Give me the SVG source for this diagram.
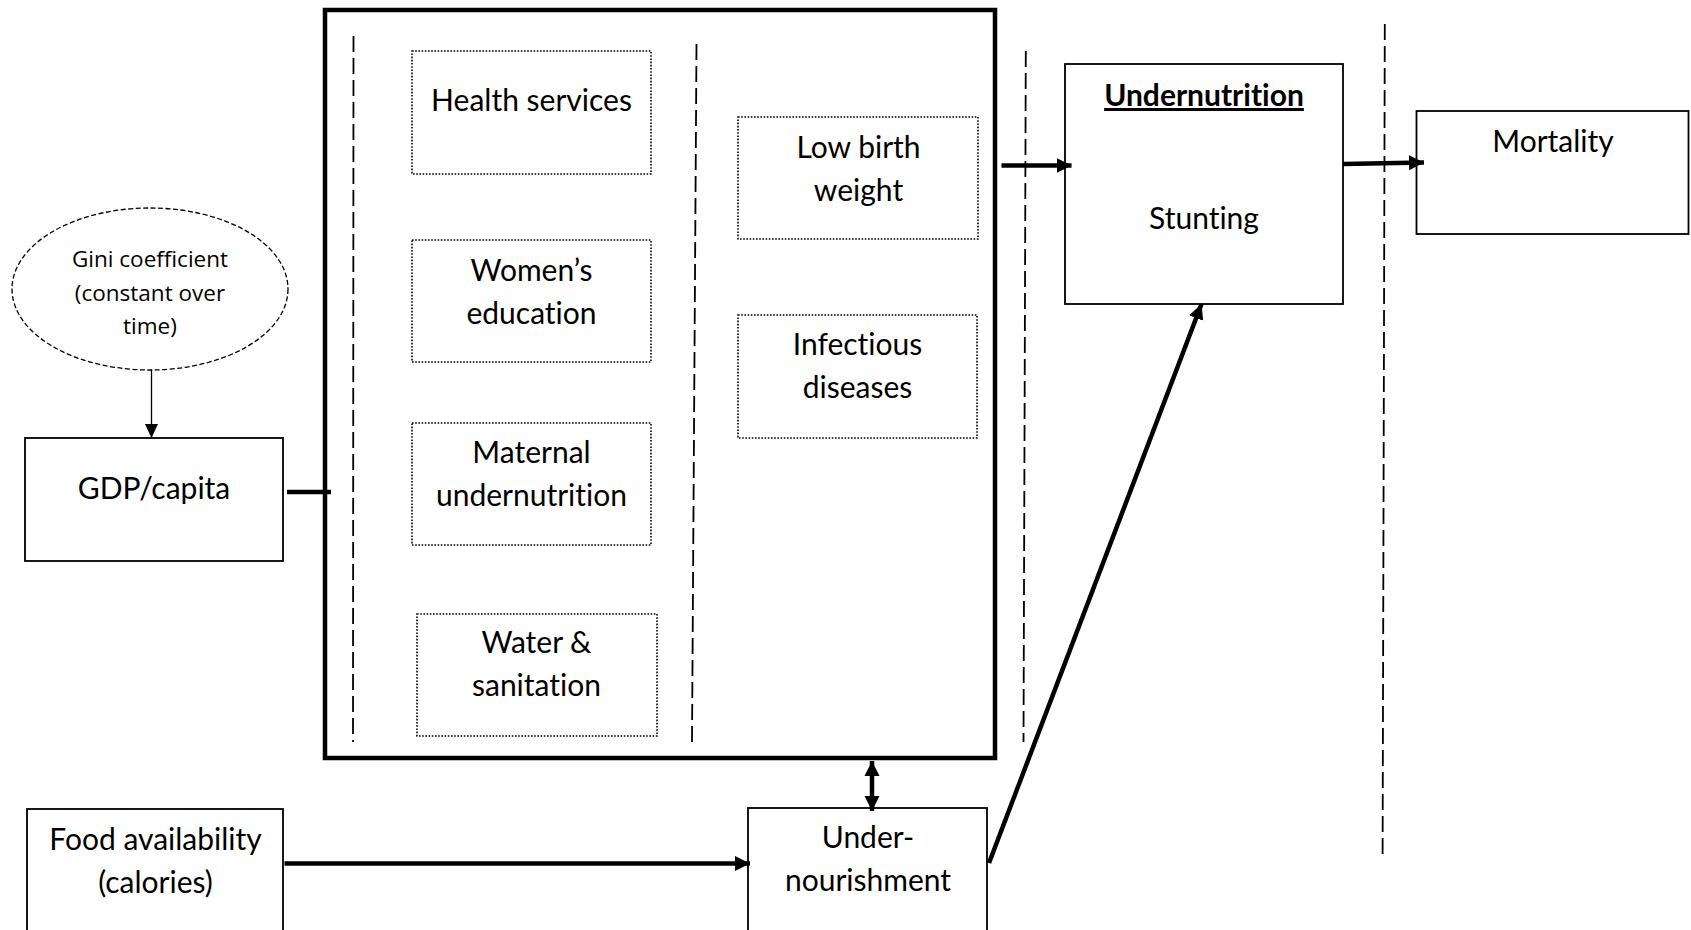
<svg xmlns="http://www.w3.org/2000/svg" width="1691" height="930" viewBox="0 0 1691 930">
  <defs>
    <style>
      .box { fill: #fff; stroke: #000; stroke-width: 1.8; }
      .frame { fill: none; stroke: #000; stroke-width: 4.5; }
      .dotted { fill: #fff; stroke: #000; stroke-width: 1.6; stroke-dasharray: 1.6 1.6; }
      .oval { fill: #fff; stroke: #000; stroke-width: 1.3; stroke-dasharray: 5 2.5; }
      .divider { fill: none; stroke: #000; stroke-width: 1.8; stroke-dasharray: 16 6; }
      .link { fill: none; stroke: #000; stroke-width: 4.5; }
      .thin { fill: none; stroke: #000; stroke-width: 1.3; }
      .lbl { font-family: Lato, "Noto Sans", sans-serif; font-size: 30px; fill: #000; text-anchor: middle; font-variant-ligatures: none; }
      .bold { font-weight: bold; text-decoration: underline; }
      .small { font-family: "Open Sans", "Noto Sans", sans-serif; font-size: 22.5px; fill: #000; text-anchor: middle; }
    </style>
    <marker id="head" markerUnits="userSpaceOnUse" markerWidth="16" markerHeight="16" viewBox="0 0 16 16" refX="15" refY="8" orient="auto-start-reverse">
      <path d="M0,0.5 L15,8 L0,15.5 Z" fill="#000"/>
    </marker>
    <marker id="headSmall" markerUnits="userSpaceOnUse" markerWidth="14" markerHeight="14" viewBox="0 0 14 14" refX="14" refY="7" orient="auto">
      <path d="M0,0.5 L14,7 L0,13.5 Z" fill="#000"/>
    </marker>
  </defs>

  <rect width="1691" height="930" fill="#fff"/>

  <!-- determinants frame with its column dividers -->
  <g id="determinants">
    <rect class="frame" x="325" y="10" width="670" height="748"/>
    <line class="divider" x1="353.5" y1="36" x2="353" y2="742"/>
    <line class="divider" x1="696.5" y1="44" x2="692" y2="742"/>
  </g>

  <!-- stage dividers -->
  <g id="stage-dividers">
    <line class="divider" x1="1025.8" y1="51" x2="1023.5" y2="742"/>
    <line class="divider" x1="1384.8" y1="24" x2="1382.6" y2="854"/>
  </g>

  <g id="health-services">
    <rect class="dotted" x="412" y="51" width="239" height="123"/>
    <text class="lbl" x="531.5" y="111">Health services</text>
  </g>

  <g id="womens-education">
    <rect class="dotted" x="412" y="240" width="239" height="122"/>
    <text class="lbl" x="531.5" y="281">Women’s</text>
    <text class="lbl" x="531.5" y="324">education</text>
  </g>

  <g id="maternal-undernutrition">
    <rect class="dotted" x="412" y="423" width="239" height="122"/>
    <text class="lbl" x="531.5" y="463">Maternal</text>
    <text class="lbl" x="531.5" y="506">undernutrition</text>
  </g>

  <g id="water-sanitation">
    <rect class="dotted" x="417" y="614" width="240" height="122"/>
    <text class="lbl" x="536.5" y="653">Water &amp;</text>
    <text class="lbl" x="536.5" y="696">sanitation</text>
  </g>

  <g id="low-birth-weight">
    <rect class="dotted" x="738" y="117" width="240" height="122"/>
    <text class="lbl" x="858.5" y="158">Low birth</text>
    <text class="lbl" x="858.5" y="201">weight</text>
  </g>

  <g id="infectious-diseases">
    <rect class="dotted" x="738" y="315" width="239" height="123"/>
    <text class="lbl" x="857.5" y="355">Infectious</text>
    <text class="lbl" x="857.5" y="398">diseases</text>
  </g>

  <g id="gini">
    <ellipse class="oval" cx="150" cy="289" rx="138" ry="81"/>
    <text class="small" x="150" y="267">Gini coefficient</text>
    <text class="small" x="150" y="301">(constant over</text>
    <text class="small" x="150" y="334">time)</text>
  </g>

  <g id="gdp">
    <rect class="box" x="25" y="438" width="258" height="123"/>
    <text class="lbl" x="154" y="499">GDP/capita</text>
  </g>

  <g id="food-availability">
    <rect class="box" x="27" y="809" width="256" height="130"/>
    <text class="lbl" x="155.5" y="850">Food availability</text>
    <text class="lbl" x="155.5" y="893">(calories)</text>
  </g>

  <g id="undernourishment">
    <rect class="box" x="748" y="808" width="239" height="130"/>
    <text class="lbl" x="868" y="848">Under-</text>
    <text class="lbl" x="868" y="891">nourishment</text>
  </g>

  <g id="undernutrition">
    <rect class="box" x="1065" y="64" width="278" height="240"/>
    <text class="lbl bold" x="1204" y="106">Undernutrition</text>
    <text class="lbl" x="1204" y="229">Stunting</text>
  </g>

  <g id="mortality">
    <rect class="box" x="1416.5" y="111" width="272" height="123"/>
    <text class="lbl" x="1553" y="152">Mortality</text>
  </g>

  <g id="connectors">
    <line class="thin" x1="151.5" y1="370" x2="151.5" y2="438" marker-end="url(#headSmall)"/>
    <line class="link" x1="287" y1="492" x2="331" y2="492"/>
    <line class="link" x1="284.5" y1="863.5" x2="750" y2="863.5" marker-end="url(#head)"/>
    <line class="link" x1="872" y1="761" x2="872" y2="811" marker-start="url(#head)" marker-end="url(#head)"/>
    <line class="link" x1="1001.5" y1="165.5" x2="1071.5" y2="165.5" marker-end="url(#head)"/>
    <line class="link" x1="1343" y1="164" x2="1424" y2="162.5" marker-end="url(#head)"/>
    <line class="link" x1="989" y1="863" x2="1201.5" y2="304" marker-end="url(#head)"/>
  </g>
</svg>
